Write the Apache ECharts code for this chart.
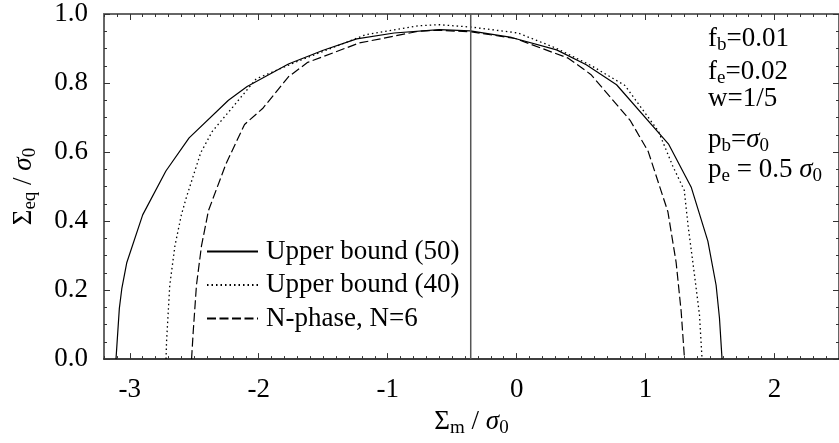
<!DOCTYPE html>
<html>
<head>
<meta charset="utf-8">
<script src="https://cdn.jsdelivr.net/npm/echarts@6/dist/echarts.min.js"></script>
<style>
  html, body { margin: 0; padding: 0; background: #fff; }
  #chart { width: 839px; height: 443px; }
</style>
</head>
<body>
<div id="chart"></div>
<script>
// values
var upper50 = [
  [-3.107, 0], [-3.081, 0.147], [-3.062, 0.204], [-3.023, 0.28], [-2.90, 0.418],
  [-2.72, 0.545], [-2.54, 0.641], [-2.235, 0.75], [-2.09, 0.79], [-1.77, 0.855],
  [-1.50, 0.895], [-1.24, 0.928], [-0.95, 0.945], [-0.60, 0.955], [-0.36, 0.951],
  [-0.04, 0.932], [0.31, 0.896], [0.54, 0.853], [0.775, 0.795], [1.18, 0.622],
  [1.355, 0.497], [1.483, 0.342], [1.547, 0.214], [1.573, 0.119], [1.593, 0]
]
var upper40 = [
  [-2.719, 0], [-2.715, 0.05], [-2.69, 0.214], [-2.65, 0.328], [-2.60, 0.418],
  [-2.56, 0.47], [-2.45, 0.598], [-2.36, 0.66], [-2.2, 0.731], [-2.02, 0.812],
  [-1.69, 0.864], [-1.17, 0.94], [-0.76, 0.966], [-0.6, 0.969], [-0.35, 0.962],
  [0.01, 0.945], [0.3, 0.902], [0.58, 0.85], [0.84, 0.793], [1.10, 0.66],
  [1.21, 0.56], [1.30, 0.489], [1.33, 0.385], [1.38, 0.242], [1.418, 0.128], [1.438, 0]
]
var nphase6 = [
  [-2.521, 0], [-2.508, 0.08], [-2.483, 0.214], [-2.444, 0.328], [-2.39, 0.43],
  [-2.255, 0.565], [-2.11, 0.68], [-1.97, 0.726], [-1.77, 0.818], [-1.62, 0.86],
  [-1.22, 0.916], [-0.76, 0.95], [-0.6, 0.953], [-0.35, 0.948], [-0.01, 0.929],
  [0.4, 0.872], [0.575, 0.825], [0.88, 0.692], [1.02, 0.602], [1.173, 0.427],
  [1.237, 0.28], [1.276, 0.138], [1.302, 0]
]
var vLineX = -0.356
var xTicks = [-3, -2, -1, 0, 1, 2]
var seriesNames = ['Upper bound (50)', 'Upper bound (40)', 'N-phase, N=6']
var notes = [
  '{n|f}{s|b}{n|=0.01}',
  '{n|f}{s|e}{n|=0.02}',
  '{n|w=1/5}',
  '{n|p}{s|b}{n|=}{i|σ}{s|0}',
  '{n|p}{s|e}{n| = 0.5 }{i|σ}{s|0}'
]
var noteY = [42, 75, 102, 143, 173]

var FONT = "'Liberation Serif', 'DejaVu Serif', serif"
var rich = {
  n: { fontFamily: FONT, fontSize: 27, color: '#000' },
  i: { fontFamily: FONT, fontSize: 27, fontStyle: 'italic', color: '#000' },
  s: { fontFamily: FONT, fontSize: 19, color: '#000', padding: [14, 0, 0, 0] }
}

var myChart = echarts.init(document.getElementById('chart'))

function xAx(pos, major) {
  var ax = {
    type: 'value', position: pos, min: -3.2, max: 2.5,
    splitLine: { show: false },
    axisLine: { show: major, onZero: false, lineStyle: { color: pos === 'bottom' ? '#000' : '#666', width: pos === 'bottom' ? 1.5 : 2 } },
    axisTick: { show: true, inside: true, length: major ? 6 : 3, lineStyle: { color: '#333' } },
    axisLabel: { show: false }
  }
  if (major) {
    ax.axisTick.customValues = xTicks
  } else {
    ax.interval = 0.1
  }
  return ax
}
function yAx(pos, major) {
  return {
    type: 'value', position: pos, min: 0, max: 1, interval: major ? 0.2 : 0.05,
    splitLine: { show: false },
    axisLine: { show: major, onZero: false, lineStyle: { color: '#666', width: 2 } },
    axisTick: { show: true, inside: true, length: major ? 6 : 3, lineStyle: { color: '#333' } },
    axisLabel: { show: false }
  }
}

var xAxes = [xAx('bottom', true), xAx('bottom', false), xAx('top', true), xAx('top', false)]
xAxes[0].axisLabel = {
  show: true, customValues: xTicks, margin: 17,
  fontFamily: FONT, fontSize: 27, color: '#000'
}
xAxes[0].name = '{n|Σ}{s|m}{n| / }{i|σ}{s|0}'
xAxes[0].nameLocation = 'middle'
xAxes[0].nameGap = 44
xAxes[0].nameTextStyle = { rich: rich }

var yAxes = [yAx('left', true), yAx('left', false), yAx('right', true), yAx('right', false)]
yAxes[0].axisLabel = {
  show: true, margin: 16, fontFamily: FONT, fontSize: 27, color: '#000',
  formatter: function (v) { return v.toFixed(1) }
}
yAxes[0].name = '{n|Σ}{s|eq}{n| / }{i|σ}{s|0}'
yAxes[0].nameLocation = 'middle'
yAxes[0].nameRotate = 90
yAxes[0].nameGap = 64
yAxes[0].nameTextStyle = { rich: rich }

var lineBase = { type: 'line', showSymbol: false, symbol: 'none', silent: true, color: '#000' }

var option = {
  animation: false,
  grid: { left: 104, top: 14, width: 737, height: 351 },
  xAxis: xAxes,
  yAxis: yAxes,
  legend: {
    data: seriesNames, orient: 'vertical', left: 201, top: 233,
    itemWidth: 51, itemHeight: 14, itemGap: 6.5,
    itemStyle: { opacity: 0 },
    textStyle: { fontFamily: FONT, fontSize: 27, lineHeight: 27, color: '#000', padding: [0, 0, 0, 3] }
  },
  graphic: notes.map(function (t, k) {
    return {
      type: 'text', left: 708, top: noteY[k] - 17, silent: true,
      style: { text: t, rich: rich, fill: '#000' }
    }
  }),
  series: [
    Object.assign({}, lineBase, { name: seriesNames[0], data: upper50, lineStyle: { color: '#000', width: 1.2, type: 'solid' } }),
    Object.assign({}, lineBase, { name: seriesNames[1], data: upper40, lineStyle: { color: '#000', width: 1.3, type: [1.5, 3] } }),
    Object.assign({}, lineBase, { name: seriesNames[2], data: nphase6, lineStyle: { color: '#000', width: 1.2, type: [9, 3.5] } }),
    Object.assign({}, lineBase, { name: 'vline', data: [[vLineX, 0], [vLineX, 1]], lineStyle: { color: '#555', width: 1.5 } })
  ]
}
myChart.setOption(option)
</script>
</body>
</html>
